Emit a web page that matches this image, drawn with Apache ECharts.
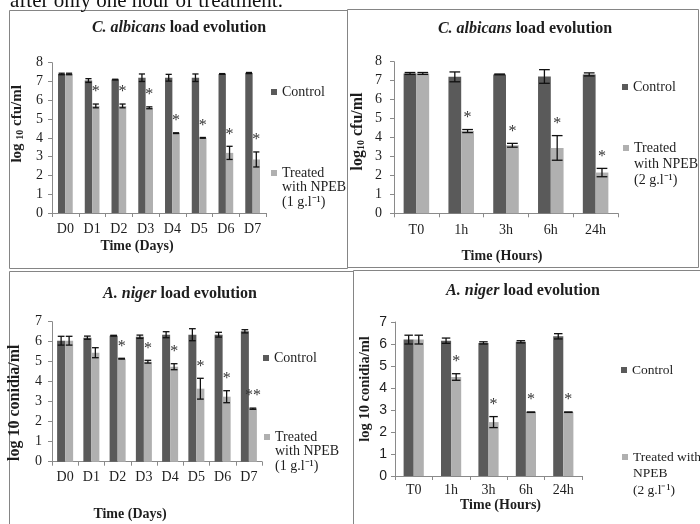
<!DOCTYPE html>
<html><head><meta charset="utf-8">
<script src="https://cdn.jsdelivr.net/npm/echarts@6/dist/echarts.min.js"></script>
<style>html,body{margin:0;padding:0;background:#fff}#c{width:700px;height:524px}</style>
</head><body><div id="c"></div>
<script>
// ---------- data ----------
const dayCategories = ['D0','D1','D2','D3','D4','D5','D6','D7'];
const hourCategories = ['T0','1h','3h','6h','24h'];

// Panel 1: C. albicans, days
const albDaysControl    = [7.40, 7.05, 7.10, 7.20, 7.20, 7.20, 7.40, 7.45];
const albDaysControlErr = [0.04, 0.10, 0.02, 0.20, 0.18, 0.20, 0.02, 0.03];
const albDaysTreated    = [7.40, 5.70, 5.70, 5.60, 4.25, 4.00, 3.20, 2.85];
const albDaysTreatedErr = [0.04, 0.10, 0.10, 0.05, 0.02, 0.02, 0.35, 0.40];
const albDaysStars      = ['', '*', '*', '*', '*', '*', '*', '*'];

// Panel 2: C. albicans, hours
const albHoursControl    = [7.38, 7.20, 7.33, 7.22, 7.33];
const albHoursControlErr = [0.05, 0.26, 0.02, 0.36, 0.08];
const albHoursTreated    = [7.38, 4.34, 3.59, 3.45, 2.15];
const albHoursTreatedErr = [0.05, 0.08, 0.10, 0.65, 0.22];
const albHoursStars      = ['', '*', '*', '*', '*'];

// Panel 3: A. niger, days
const nigDaysControl    = [6.05, 6.20, 6.30, 6.25, 6.35, 6.35, 6.35, 6.52];
const nigDaysControlErr = [0.22, 0.08, 0.02, 0.08, 0.15, 0.30, 0.12, 0.08];
const nigDaysTreated    = [6.05, 5.45, 5.15, 5.00, 4.75, 3.65, 3.25, 2.65];
const nigDaysTreatedErr = [0.22, 0.25, 0.02, 0.07, 0.15, 0.52, 0.30, 0.03];
const nigDaysStars      = ['', '', '*', '*', '*', '*', '*', '**'];

// Panel 4: A. niger, hours
const nigHoursControl    = [6.20, 6.15, 6.05, 6.10, 6.35];
const nigHoursControlErr = [0.20, 0.12, 0.05, 0.05, 0.12];
const nigHoursTreated    = [6.20, 4.50, 2.45, 2.90, 2.90];
const nigHoursTreatedErr = [0.20, 0.15, 0.25, 0.01, 0.01];
const nigHoursStars      = ['', '*', '*', '*', '*'];

// ---------- styling ----------
const SERIF = 'Liberation Serif';
const C_CTRL = '#5a5a5a';
const C_TRT = '#b0b0b0';
const AX = '#8a8a8a';
const TXT = '#1e1e1e';

const panels = [
  { grid:{left:52, top:62.7, width:214, height:150.3}, cats: dayCategories, max:8,
    ctrl: albDaysControl, ctrlErr: albDaysControlErr, trt: albDaysTreated, trtErr: albDaysTreatedErr, stars: albDaysStars,
    gap: 0.45, yFont:{fontFamily:SERIF,fontSize:14}, yMargin:9, xMargin:9,
    yName:'{b|log }{s|10}{b| cfu/ml}', yNameSize:15, yNameGap:27, yNamePad:[0,0,0,28],
    xName:'Time (Days)', xNameGap:26, xNamePad:[0,44,0,0],
    trtName:'Treated with NPEB (1 g.l-1)' },
  { grid:{left:394, top:61.7, width:224, height:151.6}, cats: hourCategories, max:8,
    ctrl: albHoursControl, ctrlErr: albHoursControlErr, trt: albHoursTreated, trtErr: albHoursTreatedErr, stars: albHoursStars,
    gap: 0.43, yFont:{fontFamily:SERIF,fontSize:14}, yMargin:12, xMargin:10,
    yName:'{b|log}{s|10}{b| cfu/ml}', yNameSize:16, yNameGap:28, yNamePad:[0,0,0,12],
    xName:'Time (Hours)', xNameGap:36, xNamePad:[0,8,0,0],
    trtName:'Treated with NPEB (2 g.l-1)' },
  { grid:{left:52, top:321.7, width:210, height:140}, cats: dayCategories, max:7,
    ctrl: nigDaysControl, ctrlErr: nigDaysControlErr, trt: nigDaysTreated, trtErr: nigDaysTreatedErr, stars: nigDaysStars,
    gap: 0.39, yFont:{fontFamily:SERIF,fontSize:14}, yMargin:10, xMargin:9,
    yName:'{b|log 10 conidia/ml}', yNameSize:16, yNameGap:29, yNamePad:[0,22,0,0],
    xName:'Time (Days)', xNameGap:46, xNamePad:[0,54,0,0],
    trtName:'Treated with NPEB (1 g.l-1)' },
  { grid:{left:395, top:322, width:187, height:154}, cats: hourCategories, max:7,
    ctrl: nigHoursControl, ctrlErr: nigHoursControlErr, trt: nigHoursTreated, trtErr: nigHoursTreatedErr, stars: nigHoursStars,
    gap: 0.46, yFont:{fontFamily:'Liberation Sans',fontSize:14}, yMargin:8, xMargin:7,
    yName:'{b|log 10 conidia/ml}', yNameSize:14.5, yNameGap:22, yNamePad:[0,0,0,20],
    xName:'Time (Hours)', xNameGap:19, xNamePad:[0,0,0,24],
    trtName:'Treated with NPEB (2 g.l-1)' }
];

function errRender(vals, errs, stars, side, gap) {
  return function (params, api) {
    const i = params.dataIndex;
    const band = api.size([1, 0])[0];
    const barW = band * (1 - gap) / 2;
    const cx = api.coord([i, vals[i]])[0] + side * barW / 2;
    const yTop = api.coord([i, vals[i] + errs[i]])[1];
    const yBot = api.coord([i, vals[i] - errs[i]])[1];
    const hw = Math.max(3, barW * 0.42);
    const st = { stroke: '#111', lineWidth: 1.3 };
    const ch = [
      { type:'line', shape:{x1:cx, y1:yTop, x2:cx, y2:yBot}, style: st },
      { type:'line', shape:{x1:cx-hw, y1:yTop, x2:cx+hw, y2:yTop}, style: st },
      { type:'line', shape:{x1:cx-hw, y1:yBot, x2:cx+hw, y2:yBot}, style: st }
    ];
    if (stars && stars[i]) {
      ch.push({ type:'text', x: cx, y: yTop - 4,
        style:{ text: stars[i], fill:'#333', font:'16px "Liberation Serif"', align:'center', verticalAlign:'bottom' } });
    }
    return { type:'group', children: ch };
  };
}

const grids = [], xAxes = [], yAxes = [], series = [];
panels.forEach((p, k) => {
  grids.push(Object.assign({ outerBoundsMode:'none', containLabel:false }, p.grid));
  xAxes.push({
    type:'category', gridIndex:k, data:p.cats,
    axisLine:{ lineStyle:{ color:AX, width:1 } },
    axisTick:{ show:true, alignWithLabel:false, length:4, lineStyle:{ color:AX } },
    axisLabel:{ fontFamily:SERIF, fontSize:14, color:TXT, margin:p.xMargin, interval:0 },
    splitLine:{ show:false },
    name:p.xName, nameLocation:'middle', nameGap:p.xNameGap,
    nameTextStyle:{ fontFamily:SERIF, fontSize:14, fontWeight:'bold', color:TXT, padding:p.xNamePad }
  });
  yAxes.push({
    type:'value', gridIndex:k, min:0, max:p.max, interval:1,
    axisLine:{ show:true, lineStyle:{ color:AX, width:1 } },
    axisTick:{ show:true, length:4, lineStyle:{ color:AX } },
    axisLabel:Object.assign({ color:TXT, margin:p.yMargin }, p.yFont),
    splitLine:{ show:false },
    name:p.yName, nameLocation:'middle', nameGap:p.yNameGap,
    nameTextStyle:{ padding:p.yNamePad, rich:{
      b:{ fontFamily:SERIF, fontSize:p.yNameSize, fontWeight:'bold', color:TXT },
      s:{ fontFamily:SERIF, fontSize:Math.round(p.yNameSize*0.65), fontWeight:'bold', color:TXT, verticalAlign:'bottom' }
    } }
  });
  series.push({
    type:'bar', name:'Control', xAxisIndex:k, yAxisIndex:k, data:p.ctrl,
    barGap:'0%', barCategoryGap:(p.gap*100)+'%', itemStyle:{ color:C_CTRL }, silent:true
  });
  series.push({
    type:'bar', name:p.trtName, xAxisIndex:k, yAxisIndex:k, data:p.trt,
    barGap:'0%', barCategoryGap:(p.gap*100)+'%', itemStyle:{ color:C_TRT }, silent:true
  });
  series.push({
    type:'custom', xAxisIndex:k, yAxisIndex:k, silent:true, z:5,
    data:p.ctrl.map((v,i)=>[i,v]), encode:{x:0,y:1},
    renderItem: errRender(p.ctrl, p.ctrlErr, null, -1, p.gap)
  });
  series.push({
    type:'custom', xAxisIndex:k, yAxisIndex:k, silent:true, z:5,
    data:p.trt.map((v,i)=>[i,v]), encode:{x:0,y:1},
    renderItem: errRender(p.trt, p.trtErr, p.stars, 1, p.gap)
  });
});

const titleRich = {
  i:{ fontFamily:SERIF, fontSize:16, fontWeight:'bold', fontStyle:'italic', color:TXT },
  b:{ fontFamily:SERIF, fontSize:16, fontWeight:'bold', color:TXT }
};
const titles = [
  { text:'{i|C. albicans}{b| load evolution}', left:179, top:20 },
  { text:'{i|C. albicans}{b| load evolution}', left:525, top:21 },
  { text:'{i|A. niger}{b| load evolution}', left:180, top:286 },
  { text:'{i|A. niger}{b| load evolution}', left:523, top:283 }
].map(t => Object.assign({ textAlign:'center', padding:0, textStyle:{ rich:titleRich } }, t));

// legend entry whose marker sits beside the first line of (possibly multi-line) label
function legendItem(name, label, x, y, lh, fs) {
  const lines = label.split('\n').length;
  const text = lines > 1 ? '\n'.repeat(lines - 1) + label : label;
  const total = lines > 1 ? 2 * lines - 1 : 1;
  return {
    data:[name], left:x, top: y - total * lh / 2,
    orient:'vertical', padding:0, itemWidth:6, itemHeight:6, icon:'rect', selectedMode:false,
    formatter: () => text,
    textStyle:{ fontFamily:SERIF, fontSize:fs || 14, color:TXT, lineHeight:lh }
  };
}
const legends = [
  legendItem('Control', 'Control', 271, 92, 15),
  legendItem('Treated with NPEB (1 g.l-1)', 'Treated\nwith NPEB\n(1 g.l\u207B\u00B9)', 271, 173, 14.5),
  legendItem('Control', 'Control', 622, 87, 15),
  legendItem('Treated with NPEB (2 g.l-1)', 'Treated\nwith NPEB\n(2 g.l\u207B\u00B9)', 623, 148, 16),
  legendItem('Control', 'Control', 263, 358, 15),
  legendItem('Treated with NPEB (1 g.l-1)', 'Treated\nwith NPEB\n(1 g.l\u207B\u00B9)', 264, 437, 14.5),
  legendItem('Control', 'Control', 621, 370, 15, 13.5),
  legendItem('Treated with NPEB (2 g.l-1)', 'Treated with\nNPEB\n(2 g.l\u207B\u00B9)', 622, 457, 16.5, 13.5)
];

const border = { stroke:'#858585', lineWidth:1, fill:null };
const graphics = [
  { type:'rect', shape:{ x:9.5, y:10.5, width:338, height:258 }, style:border, silent:true },
  { type:'rect', shape:{ x:347.5, y:9.5, width:351, height:258 }, style:border, silent:true },
  { type:'rect', shape:{ x:9.5, y:271.5, width:344, height:260 }, style:border, silent:true },
  { type:'rect', shape:{ x:353.5, y:270.5, width:352, height:260 }, style:border, silent:true },
  { type:'text', x:10, y:12, style:{ text:'after only one hour of treatment.', fill:'#111',
      font:'21px "Liberation Serif"', verticalAlign:'bottom' }, silent:true }
];

const chart = echarts.init(document.getElementById('c'), null, { renderer:'canvas' });
chart.setOption({
  animation:false,
  backgroundColor:'#fff',
  title:titles,
  legend:legends,
  grid:grids, xAxis:xAxes, yAxis:yAxes, series:series,
  graphic:graphics
});
</script></body></html>
